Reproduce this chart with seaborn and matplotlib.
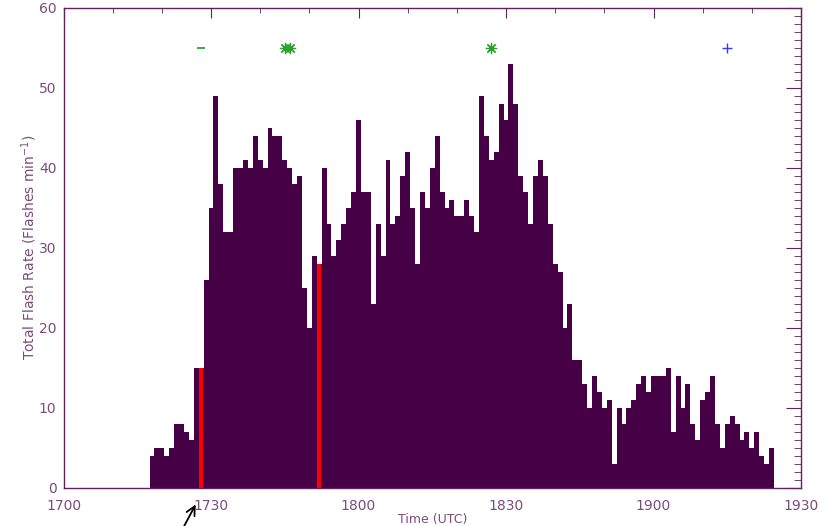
import numpy as np
import matplotlib
matplotlib.use("Agg")
import matplotlib.pyplot as plt
from matplotlib.ticker import MultipleLocator
import seaborn as sns

# minutes after 1700 UTC, one bin per minute
minutes = list(range(18, 145))
rates = [4, 5, 5, 4, 5, 8, 8, 7, 6, 15,
         15, 26, 35, 49, 38, 32, 32, 40, 40, 41,
         40, 44, 41, 40, 45, 44, 44, 41, 40, 38,
         39, 25, 20, 29, 28, 40, 33, 29, 31, 33,
         35, 37, 46, 37, 37, 23, 33, 29, 41, 33,
         34, 39, 42, 35, 28, 37, 35, 40, 44, 37,
         35, 36, 34, 34, 36, 34, 32, 49, 44, 41,
         42, 48, 46, 53, 48, 39, 37, 33, 39, 41,
         39, 33, 28, 27, 20, 23, 16, 16, 13, 10,
         14, 12, 10, 11, 3, 10, 8, 10, 11, 13,
         14, 12, 14, 14, 14, 15, 7, 14, 10, 13,
         8, 6, 11, 12, 14, 8, 5, 8, 9, 8,
         6, 7, 5, 7, 4, 3, 5]

# highlighted minutes (red)
red_minutes = [28, 52]
red_rates = [15, 28]

# symbols along the top
dash_minutes = [28]
star_minutes = [45, 46, 87]
plus_minutes = [135]
symbol_level = 55

xtick_pos = [0, 30, 60, 90, 120, 150]
xtick_labels = ["1700", "1730", "1800", "1830", "1900", "1930"]
ytick_pos = [0, 10, 20, 30, 40, 50, 60]

bar_color = "#460046"
axis_color = "#5e235e"
text_color = "#7a4c7a"


def main():
    sns.set_style("white")
    plt.rcParams["font.family"] = ["DejaVu Sans"]

    fig = plt.figure(figsize=(8.3, 5.26), dpi=100)
    ax = fig.add_axes([63.5 / 830, 38.5 / 526, 737.5 / 830, 480 / 526])

    sns.histplot(x=minutes, weights=rates, discrete=True, element="step",
                 fill=True, color=bar_color, alpha=1, linewidth=0, ax=ax)
    sns.histplot(x=red_minutes, weights=red_rates, discrete=True, shrink=0.85,
                 element="bars", color="red", alpha=1, linewidth=0, ax=ax)

    sns.scatterplot(x=dash_minutes, y=[symbol_level] * len(dash_minutes),
                    marker="_", s=40, color="#1f9a1f", linewidth=1.2, ax=ax)
    sns.scatterplot(x=star_minutes, y=[symbol_level] * len(star_minutes),
                    marker=(8, 2, 0), s=55, color="#2ea02e", linewidth=0.9, ax=ax)
    sns.scatterplot(x=plus_minutes, y=[symbol_level] * len(plus_minutes),
                    marker="+", s=55, color="#3a3aff", linewidth=1.0, ax=ax)

    ax.set_xlim(0, 150)
    ax.set_ylim(0, 60)
    ax.set_xticks(xtick_pos)
    ax.set_xticklabels(xtick_labels)
    ax.set_yticks(ytick_pos)
    ax.xaxis.set_minor_locator(MultipleLocator(10))
    ax.yaxis.set_minor_locator(MultipleLocator(1))

    ax.tick_params(which="both", direction="in", top=True, right=True,
                   color=axis_color, labelcolor=text_color, labelsize=10)
    ax.tick_params(axis="x", which="major", length=7, pad=8)
    ax.tick_params(axis="x", which="minor", length=3.6)
    ax.tick_params(axis="y", which="major", length=10.5, pad=5)
    ax.tick_params(axis="y", which="minor", length=5)

    for sp in ax.spines.values():
        sp.set_color(axis_color)
        sp.set_linewidth(1.0)

    ax.set_xlabel("Time (UTC)", color=text_color, fontsize=9, labelpad=0)
    ax.set_ylabel("Total Flash Rate (Flashes min$^{-1}$)", color=text_color,
                  fontsize=10, labelpad=0)

    # arrow below the axis pointing at the first red line
    ax.annotate("", xy=(197 / 830, 1 - 502 / 526), xycoords="figure fraction",
                xytext=(181 / 830, 1 - 532 / 526), textcoords="figure fraction",
                arrowprops=dict(arrowstyle="->", color="black", lw=1.3,
                                mutation_scale=16))

    fig.savefig("out.png", dpi=100)
    plt.close(fig)


if __name__ == "__main__":
    main()
